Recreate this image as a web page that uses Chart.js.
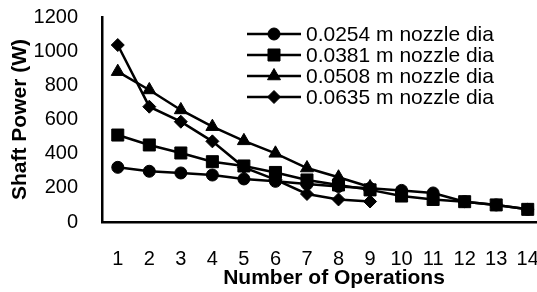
<!DOCTYPE html>
<html><head><meta charset="utf-8">
<script src="https://cdn.jsdelivr.net/npm/chart.js@4/dist/chart.umd.min.js"></script>
<style>html,body{margin:0;padding:0;background:#fff;overflow:hidden;width:537px;height:292px}canvas{display:block}</style>
</head><body>
<canvas id="c" width="553" height="292"></canvas>
<script>
const categories = ['1','2','3','4','5','6','7','8','9','10','11','12','13','14'];
const nozzle0254 = [320, 297, 287, 275, 252, 238, 222, 208, 197, 185, 170, 119, 100, 74];
const nozzle0381 = [509, 451, 404, 353, 328, 290, 246, 217, 188, 152, 132, 119, 100, 74];
const nozzle0508 = [880, 773, 656, 558, 475, 402, 316, 262, 205];
const nozzle0635 = [1036, 675, 587, 472, 320, 248, 164, 132, 120];
const seriesLabels = ['0.0254 m nozzle dia', '0.0381 m nozzle dia', '0.0508 m nozzle dia', '0.0635 m nozzle dia'];
const yMin = 0, yMax = 1200, yStep = 200;
const xTitle = 'Number of Operations';
const yTitle = 'Shaft Power (W)';

const FONT = '"Liberation Sans", Arial, sans-serif';

function ds(label, data, style, r) {
  return {label, data, pointStyle: style, pointRadius: r, pointHoverRadius: r,
    borderColor: '#000', backgroundColor: '#000', pointBackgroundColor: '#000',
    pointBorderColor: '#000', pointBorderWidth: 1, borderWidth: 2.5, tension: 0, fill: false};
}

const legendPlugin = {
  id: 'customLegend',
  afterDraw(chart) {
    const ctx = chart.ctx;
    chart.data.datasets.forEach((d, i) => {
      const y = 34 + i * 21;
      ctx.save();
      ctx.strokeStyle = '#000'; ctx.lineWidth = 2.5;
      ctx.beginPath(); ctx.moveTo(247, y); ctx.lineTo(301, y); ctx.stroke();
      ctx.fillStyle = '#000'; ctx.lineWidth = 1;
      Chart.helpers.drawPoint(ctx, {pointStyle: d.pointStyle, radius: d.pointRadius, rotation: 0, borderWidth: 1}, 274, y);
      ctx.font = '21px ' + FONT; ctx.textBaseline = 'middle'; ctx.textAlign = 'left';
      ctx.fillText(d.label, 306, y + 1);
      ctx.restore();
    });
    const ca = chart.chartArea;
    ctx.save();
    ctx.fillStyle = '#000';
    ctx.font = 'bold 21px ' + FONT; ctx.textAlign = 'center'; ctx.textBaseline = 'middle';
    ctx.fillText(xTitle, ca.left + 232, 278);
    ctx.restore();
  }
};

new Chart(document.getElementById('c'), {
  type: 'line',
  data: {
    labels: categories,
    datasets: [
      ds(seriesLabels[0], nozzle0254, 'circle', 6),
      ds(seriesLabels[1], nozzle0381, 'rect', 8.5),
      ds(seriesLabels[2], nozzle0508, 'triangle', 7.5),
      ds(seriesLabels[3], nozzle0635, 'rectRot', 6.5)
    ]
  },
  options: {
    responsive: false,
    animation: false,
    devicePixelRatio: 1,
    layout: {padding: {top: 17, right: 0, left: 0, bottom: 0}},
    plugins: {legend: {display: false}, tooltip: {enabled: false}},
    scales: {
      x: {
        type: 'category', offset: true,
        grid: {display: false, drawTicks: false},
        border: {display: true, color: '#000', width: 2.5},
        ticks: {color: '#000', font: {family: FONT, size: 20}, padding: 25, maxRotation: 0, autoSkip: false},
        afterFit(s) { s.height = 70; s.paddingLeft = 0; s.paddingRight = 0; }
      },
      y: {
        min: yMin, max: yMax,
        grid: {display: false, drawTicks: false},
        border: {display: true, color: '#000', width: 2.5},
        ticks: {stepSize: yStep, color: '#000', font: {family: FONT, size: 20}, padding: 24, callback: v => String(v)},
        title: {display: true, text: yTitle, color: '#000', font: {family: FONT, size: 21, weight: 'bold', lineHeight: 1}, padding: {top: 9.5, bottom: 0}},
        afterFit(s) { s.width = 102; s.paddingTop = 0; s.paddingBottom = 0; }
      }
    }
  },
  plugins: [legendPlugin]
});
</script>
</body></html>
